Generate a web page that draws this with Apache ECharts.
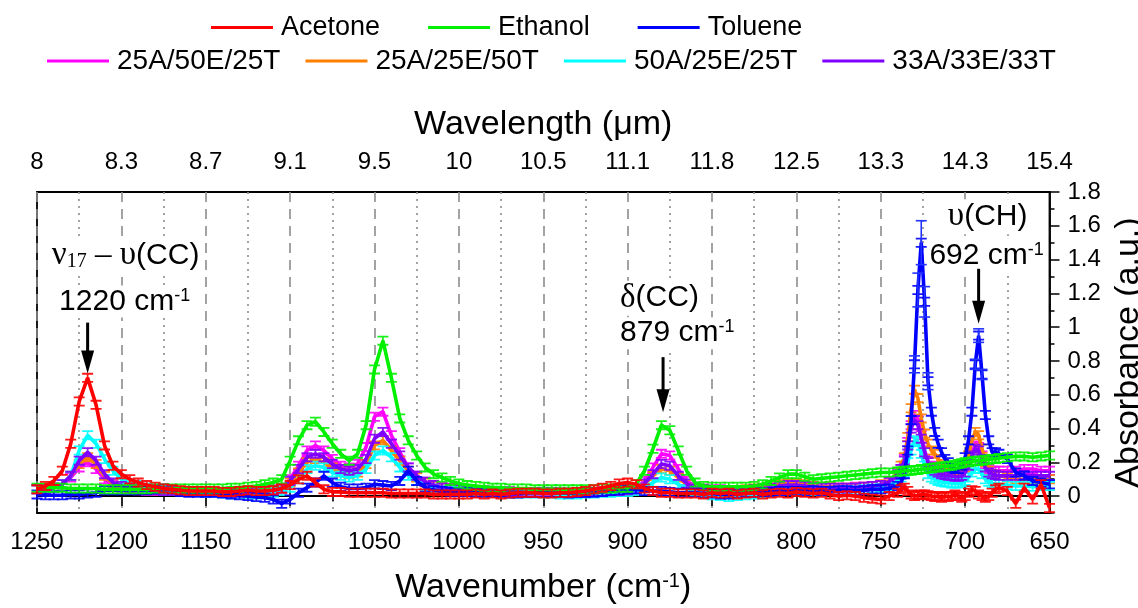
<!DOCTYPE html>
<html>
<head>
<meta charset="utf-8">
<script src="https://cdn.jsdelivr.net/npm/echarts@6/dist/echarts.min.js"></script>
<style>
  html, body { margin: 0; padding: 0; background: #fff; }
  #chart { width: 1138px; height: 608px; }
</style>
</head>
<body>
<div id="chart"></div>
<script>
// Wavenumber grid shared by every spectrum (cm-1); finer steps across the toluene bands.
const WAVENUMBER = [
  1250,1245,1240,1235,1230,1225,1220,1215,1210,1205,
  1200,1195,1190,1185,1180,1175,1170,1165,1160,1155,
  1150,1145,1140,1135,1130,1125,1120,1115,1110,1105,
  1100,1095,1090,1085,1080,1075,1070,1065,1060,1055,
  1050,1045,1040,1035,1030,1025,1020,1015,1010,1005,
  1000,995,990,985,980,975,970,965,960,955,
  950,945,940,935,930,925,920,915,910,905,
  900,895,890,885,880,875,870,865,860,855,
  850,845,840,835,830,825,820,815,810,805,
  800,795,790,785,780,775,770,765,760,755,
  750,745,740,
  738,736,734,732,730,728,726,724,722,720,
  718,716,714,712,710,708,706,704,702,700,
  698,696,694,692,690,688,686,684,682,680,
  675,670,665,660,655,650
];

// Absorbance (a.u.) of each sample at the wavenumbers above.
const ACETONE = [
  0.04,0.06,0.09,0.15,0.31,0.56,0.70,0.54,0.30,0.18,
  0.13,0.10,0.08,0.065,0.055,0.045,0.04,0.035,0.03,0.03,
  0.03,0.03,0.025,0.025,0.03,0.035,0.03,0.03,0.035,0.045,
  0.065,0.10,0.12,0.08,0.04,0.025,0.025,0.02,0.02,0.02,
  0.02,0.02,0.015,0.015,0.015,0.015,0.015,0.01,0.01,0.01,
  0.01,0.01,0.015,0.01,0.015,0.01,0.015,0.02,0.02,0.02,
  0.015,0.015,0.02,0.02,0.025,0.03,0.04,0.05,0.06,0.075,
  0.08,0.07,0.045,0.03,0.02,0.02,0.015,0.015,0.015,0.01,
  0.02,0.015,0.02,0.01,0.015,0.02,0.01,0.015,0.02,0.015,
  0.025,0.02,0.015,0.02,0.01,0.0,0.005,0.0,-0.01,-0.015,
  -0.02,0.0,0.02,
  0.04,0.05,0.03,0.01,0.0,0.005,0.01,0.01,0.005,0.0,
  -0.005,0.0,-0.01,0.0,-0.005,0.0,0.01,0.0,-0.01,0.0,
  0.02,0.035,0.03,0.01,0.0,-0.01,0.0,0.02,0.04,0.05,
  0.03,-0.045,0.05,-0.02,0.07,-0.07
];

const ETHANOL = [
  0.05,0.05,0.05,0.05,0.045,0.045,0.045,0.045,0.04,0.04,
  0.04,0.04,0.04,0.04,0.045,0.045,0.045,0.045,0.045,0.045,
  0.045,0.045,0.045,0.05,0.05,0.055,0.06,0.07,0.08,0.10,
  0.21,0.33,0.42,0.44,0.38,0.31,0.25,0.21,0.25,0.42,
  0.75,0.92,0.70,0.46,0.33,0.24,0.17,0.13,0.11,0.09,
  0.075,0.065,0.06,0.055,0.05,0.05,0.045,0.045,0.045,0.04,
  0.04,0.04,0.04,0.04,0.04,0.04,0.04,0.045,0.045,0.05,
  0.05,0.07,0.15,0.28,0.42,0.39,0.27,0.15,0.08,0.06,
  0.055,0.055,0.055,0.055,0.055,0.06,0.07,0.09,0.11,0.13,
  0.13,0.115,0.10,0.105,0.11,0.115,0.12,0.125,0.13,0.135,
  0.14,0.14,0.145,
  0.145,0.15,0.15,0.15,0.155,0.155,0.16,0.16,0.165,0.165,
  0.17,0.17,0.175,0.175,0.18,0.18,0.185,0.19,0.195,0.2,
  0.2,0.205,0.21,0.21,0.21,0.215,0.215,0.22,0.22,0.225,
  0.23,0.235,0.235,0.23,0.235,0.24
];

const TOLUENE = [
  0.01,0.005,0.005,0.005,0.01,0.01,0.015,0.02,0.035,0.035,
  0.035,0.035,0.035,0.035,0.04,0.045,0.04,0.025,0.02,0.02,
  0.02,0.02,0.015,0.01,0.005,0.0,-0.005,-0.01,-0.02,-0.045,
  -0.02,0.02,0.05,0.08,0.12,0.08,0.055,0.045,0.045,0.05,
  0.07,0.065,0.06,0.09,0.15,0.09,0.05,0.035,0.03,0.025,
  0.025,0.025,0.02,0.02,0.02,0.02,0.015,0.015,0.02,0.02,
  0.02,0.02,0.02,0.015,0.02,0.02,0.02,0.025,0.03,0.035,
  0.04,0.04,0.03,0.03,0.03,0.025,0.02,0.02,0.02,0.015,
  0.015,0.01,0.01,0.015,0.02,0.02,0.025,0.025,0.03,0.03,
  0.03,0.03,0.035,0.03,0.03,0.035,0.035,0.03,0.035,0.04,
  0.04,0.045,0.06,
  0.08,0.13,0.27,0.45,0.78,1.22,1.5,1.15,0.68,0.50,
  0.38,0.31,0.26,0.22,0.2,0.17,0.16,0.16,0.18,0.23,
  0.33,0.5,0.78,0.95,0.72,0.48,0.33,0.26,0.26,0.25,
  0.22,0.14,0.12,0.09,0.08,0.07
];

// Standard deviation of the toluene spectrum where it is large enough to show.
const TOLUENE_ERR = [
  [730, 0.05], [728, 0.10], [726, 0.13], [724, 0.09], [722, 0.05],
  [694, 0.03], [692, 0.04], [690, 0.03]
];

const MIX_25A_50E_25T = [
  0.04,0.04,0.05,0.07,0.11,0.17,0.20,0.16,0.10,0.065,
  0.05,0.04,0.035,0.03,0.03,0.03,0.03,0.03,0.03,0.03,
  0.02,0.02,0.02,0.02,0.025,0.025,0.03,0.035,0.04,0.05,
  0.10,0.18,0.27,0.30,0.27,0.22,0.18,0.17,0.19,0.29,
  0.47,0.50,0.36,0.26,0.17,0.12,0.085,0.065,0.055,0.05,
  0.045,0.04,0.035,0.035,0.03,0.03,0.03,0.025,0.025,0.025,
  0.025,0.025,0.02,0.02,0.02,0.025,0.025,0.03,0.03,0.035,
  0.04,0.05,0.09,0.17,0.25,0.24,0.16,0.09,0.055,0.045,
  0.04,0.04,0.035,0.035,0.035,0.04,0.04,0.045,0.05,0.055,
  0.06,0.055,0.05,0.05,0.05,0.05,0.05,0.055,0.055,0.06,
  0.065,0.08,0.12,
  0.16,0.22,0.32,0.42,0.48,0.45,0.36,0.27,0.21,0.18,
  0.16,0.15,0.14,0.14,0.13,0.13,0.13,0.13,0.14,0.16,
  0.2,0.26,0.3,0.29,0.24,0.19,0.16,0.15,0.15,0.15,
  0.15,0.15,0.16,0.16,0.15,0.15
];

const MIX_25A_25E_50T = [
  0.04,0.04,0.05,0.07,0.12,0.19,0.23,0.19,0.12,0.075,
  0.055,0.045,0.04,0.035,0.035,0.03,0.03,0.03,0.03,0.03,
  0.025,0.025,0.02,0.02,0.02,0.02,0.025,0.03,0.035,0.04,
  0.08,0.14,0.20,0.22,0.20,0.17,0.14,0.13,0.14,0.19,
  0.30,0.33,0.27,0.21,0.15,0.11,0.08,0.06,0.05,0.045,
  0.04,0.035,0.035,0.03,0.03,0.025,0.025,0.025,0.02,0.02,
  0.02,0.02,0.02,0.02,0.02,0.02,0.025,0.025,0.03,0.03,
  0.035,0.04,0.07,0.12,0.16,0.15,0.11,0.07,0.045,0.04,
  0.035,0.035,0.035,0.035,0.04,0.045,0.05,0.06,0.07,0.075,
  0.075,0.07,0.06,0.055,0.055,0.05,0.05,0.05,0.055,0.06,
  0.07,0.09,0.14,
  0.18,0.23,0.35,0.52,0.63,0.58,0.46,0.37,0.31,0.27,
  0.25,0.22,0.19,0.17,0.15,0.14,0.13,0.13,0.14,0.17,
  0.24,0.33,0.38,0.36,0.28,0.2,0.15,0.13,0.12,0.12,
  0.11,0.1,0.1,0.1,0.1,0.1
];

const MIX_50A_25E_25T = [
  0.04,0.045,0.05,0.07,0.12,0.27,0.36,0.31,0.22,0.15,
  0.10,0.075,0.065,0.05,0.045,0.04,0.035,0.03,0.03,0.025,
  0.02,0.02,0.015,0.01,0.01,0.01,0.01,0.015,0.02,0.03,
  0.05,0.10,0.16,0.18,0.17,0.14,0.12,0.11,0.12,0.16,
  0.24,0.27,0.23,0.17,0.12,0.09,0.06,0.045,0.035,0.03,
  0.03,0.025,0.025,0.02,0.02,0.02,0.015,0.015,0.015,0.015,
  0.015,0.015,0.01,0.01,0.01,0.015,0.015,0.02,0.02,0.025,
  0.025,0.03,0.05,0.08,0.11,0.10,0.07,0.04,0.025,0.02,
  0.005,0.0,-0.005,0.0,0.005,0.01,0.015,0.02,0.025,0.03,
  0.035,0.03,0.03,0.025,0.03,0.03,0.035,0.035,0.04,0.045,
  0.05,0.06,0.09,
  0.11,0.14,0.2,0.27,0.33,0.32,0.25,0.18,0.13,0.11,
  0.1,0.09,0.085,0.08,0.08,0.075,0.075,0.075,0.08,0.09,
  0.11,0.14,0.16,0.16,0.13,0.1,0.085,0.075,0.07,0.07,
  0.065,0.06,0.06,0.055,0.06,0.06
];

const MIX_33A_33E_33T = [
  0.04,0.04,0.05,0.07,0.12,0.21,0.26,0.21,0.13,0.08,
  0.06,0.05,0.04,0.035,0.035,0.03,0.03,0.03,0.03,0.03,
  0.025,0.025,0.02,0.02,0.02,0.025,0.025,0.03,0.035,0.045,
  0.09,0.16,0.23,0.25,0.23,0.19,0.16,0.15,0.16,0.22,
  0.34,0.38,0.31,0.24,0.17,0.12,0.085,0.065,0.05,0.045,
  0.04,0.035,0.035,0.03,0.03,0.025,0.025,0.025,0.02,0.02,
  0.02,0.02,0.02,0.02,0.02,0.02,0.025,0.025,0.03,0.03,
  0.035,0.04,0.075,0.13,0.19,0.18,0.12,0.075,0.045,0.04,
  0.035,0.035,0.03,0.03,0.035,0.04,0.045,0.05,0.06,0.065,
  0.065,0.06,0.055,0.05,0.05,0.05,0.05,0.05,0.055,0.06,
  0.065,0.085,0.13,
  0.16,0.21,0.3,0.4,0.45,0.42,0.34,0.26,0.2,0.17,
  0.15,0.14,0.13,0.125,0.12,0.12,0.115,0.115,0.12,0.14,
  0.18,0.24,0.28,0.27,0.22,0.17,0.14,0.13,0.125,0.12,
  0.12,0.12,0.125,0.12,0.12,0.12
];

// Axis ticks: wavenumber ticks on the bottom, the matching wavelengths (µm) on top.
const WN_TICKS = [1250,1200,1150,1100,1050,1000,950,900,850,800,750,700,650];
const WL_LABELS = ['8','8.3','8.7','9.1','9.5','10','10.5','11.1','11.8','12.5','13.3','14.3','15.4'];
const Y_TICKS = [0,0.2,0.4,0.6,0.8,1,1.2,1.4,1.6,1.8];
const Y_MINOR_TICKS = [-0.1,0.1,0.3,0.5,0.7,0.9,1.1,1.3,1.5,1.7];

const SERIES_INFO = [
  { name: 'Acetone',     values: ACETONE,         color: '#ff0000' },
  { name: 'Ethanol',     values: ETHANOL,         color: '#00f000' },
  { name: 'Toluene',     values: TOLUENE,         color: '#0000ff' },
  { name: '25A/50E/25T', values: MIX_25A_50E_25T, color: '#ff00ff' },
  { name: '25A/25E/50T', values: MIX_25A_25E_50T, color: '#ff8000' },
  { name: '50A/25E/25T', values: MIX_50A_25E_25T, color: '#00ffff' },
  { name: '33A/33E/33T', values: MIX_33A_33E_33T, color: '#8000ff' }
];

const SANS = '"Liberation Sans", Arial, sans-serif';
const SERIF = '"Liberation Serif", "Times New Roman", serif';
// error-bar style marker (cap, stem, cap) placed at every sample
const ERR_MARK = 'path://M0,0H11V1.8H6.4V8.2H11V10H0V8.2H4.6V1.8H0Z';

function spectrumSeries(info, z) {
  return {
    name: info.name,
    type: 'line',
    xAxisIndex: 0,
    yAxisIndex: 0,
    data: WAVENUMBER.map((w, i) => [w, info.values[i]]),
    color: info.color,
    lineStyle: { width: 3.6, color: info.color },
    symbol: ERR_MARK,
    symbolSize: [11, 10],
    showAllSymbol: true,
    itemStyle: { color: info.color, opacity: 0.9 },
    emphasis: { disabled: true },
    silent: true,
    z: z
  };
}

// mixtures underneath, then toluene, ethanol and acetone on top
const drawOrder = ['25A/50E/25T', '25A/25E/50T', '50A/25E/25T', '33A/33E/33T', 'Toluene', 'Ethanol', 'Acetone'];
const series = drawOrder.map((n, k) => spectrumSeries(SERIES_INFO.find(s => s.name === n), 2 + k * 0.01));

series.push({
  type: 'custom',
  xAxisIndex: 0,
  yAxisIndex: 0,
  silent: true,
  z: 2.05,
  data: TOLUENE_ERR.map(([w, e]) => [w, TOLUENE[WAVENUMBER.indexOf(w)], e]),
  encode: { x: 0, y: 1 },
  renderItem: function (params, api) {
    const w = api.value(0), v = api.value(1), e = api.value(2);
    const top = api.coord([w, v + e]);
    const bot = api.coord([w, v - e]);
    const hw = 5.5;
    const st = { stroke: '#2233ff', lineWidth: 1.6 };
    return {
      type: 'group',
      children: [
        { type: 'line', shape: { x1: top[0], y1: top[1], x2: bot[0], y2: bot[1] }, style: st },
        { type: 'line', shape: { x1: top[0] - hw, y1: top[1], x2: top[0] + hw, y2: top[1] }, style: st },
        { type: 'line', shape: { x1: bot[0] - hw, y1: bot[1], x2: bot[0] + hw, y2: bot[1] }, style: st }
      ]
    };
  }
});

const AXIS_LINE = { show: true, lineStyle: { color: '#000', width: 1.8 } };
const TICK = { show: true, inside: false, length: 10, lineStyle: { color: '#000', width: 1.5 } };
const MINOR_TICK = { show: true, splitNumber: 2, length: 5, lineStyle: { color: '#000', width: 1.5 } };
const LABEL = { color: '#000', fontFamily: SANS, fontSize: 24 };
const NAME_STYLE = {
  color: '#000', fontFamily: SANS, fontSize: 34,
  rich: { sup: { fontFamily: SANS, fontSize: 20, verticalAlign: 'top', color: '#000' } }
};

const legendBase = {
  icon: 'rect',
  itemWidth: 62,
  itemHeight: 3,
  padding: 0,
  selectedMode: false,
  itemStyle: { opacity: 1 }
};

const chart = echarts.init(document.getElementById('chart'), null, { renderer: 'canvas' });

chart.setOption({
  animation: false,
  backgroundColor: '#fff',
  grid: {
    left: 37, right: 88.5, top: 192, bottom: 95,
    containLabel: false, outerBoundsMode: 'none',
    show: true, borderColor: '#000', borderWidth: 1.8, backgroundColor: 'transparent'
  },
  legend: [
    Object.assign({}, legendBase, {
      data: ['Acetone', 'Ethanol', 'Toluene'], left: 211, top: 14, itemGap: 48,
      textStyle: { color: '#000', fontFamily: SANS, fontSize: 27, padding: [0, 0, 0, 3] }
    }),
    Object.assign({}, legendBase, {
      data: ['25A/50E/25T', '25A/25E/50T', '50A/25E/25T', '33A/33E/33T'], left: 47, top: 47, itemGap: 25,
      textStyle: { color: '#000', fontFamily: SANS, fontSize: 28, padding: [0, 0, 0, 3] }
    })
  ],
  xAxis: [
    {
      type: 'value', position: 'bottom', min: 650, max: 1250, interval: 50, inverse: true,
      axisLine: AXIS_LINE, axisTick: TICK, minorTick: MINOR_TICK,
      axisLabel: Object.assign({ margin: 17, formatter: v => String(v) }, LABEL),
      splitLine: { show: true, lineStyle: { color: '#8c8c8c', width: 1.6, type: [10, 7] } },
      minorSplitLine: { show: true, lineStyle: { color: '#8c8c8c', width: 1.6, type: [2, 5] } },
      name: 'Wavenumber (cm{sup|-1})', nameLocation: 'middle', nameGap: 58, nameTextStyle: NAME_STYLE
    },
    {
      type: 'value', position: 'top', min: 650, max: 1250, interval: 50, inverse: true,
      axisLine: AXIS_LINE, axisTick: TICK, minorTick: MINOR_TICK,
      axisLabel: Object.assign({
        margin: 18,
        formatter: v => { const k = WN_TICKS.indexOf(Math.round(v)); return k >= 0 ? WL_LABELS[k] : ''; }
      }, LABEL),
      splitLine: { show: false }, minorSplitLine: { show: false },
      name: 'Wavelength (μm)', nameLocation: 'middle', nameGap: 50, nameTextStyle: NAME_STYLE
    }
  ],
  yAxis: [
    {
      type: 'value', position: 'right', offset: 0, min: -0.1, max: 1.8,
      axisLine: AXIS_LINE,
      axisTick: Object.assign({ customValues: Y_TICKS }, TICK),
      axisLabel: Object.assign({ margin: 18, customValues: Y_TICKS, formatter: v => String(+(+v).toFixed(1)) }, LABEL),
      splitLine: { show: false },
      name: 'Absorbance (a.u.)', nameLocation: 'middle', nameGap: 47, nameTextStyle: NAME_STYLE
    },
    {
      type: 'value', position: 'right', offset: 0, min: -0.1, max: 1.8,
      axisLine: { show: false },
      axisTick: { show: true, inside: false, length: 5, customValues: Y_MINOR_TICKS, lineStyle: { color: '#000', width: 1.5 } },
      axisLabel: { show: false, customValues: Y_MINOR_TICKS },
      splitLine: { show: false }
    }
  ],
  series: series
});

// Band assignments: arrow tip in data coordinates, text offsets in pixels from the tip.
const ANNOTATIONS = [
  {
    wn: 1220, tip: 0.725, len: 51,
    texts: [
      { text: '{g|ν}{sub|17}{g| – υ}(CC)', dx: 38, dy: -118, align: 'center' },
      { text: '1220 cm{sup|-1}', dx: 37, dy: -72, align: 'center' }
    ]
  },
  {
    wn: 879, tip: 0.497, len: 55,
    texts: [
      { text: '{g|δ}(CC)', dx: -45, dy: -114, align: 'left' },
      { text: '879 cm{sup|-1}', dx: -45, dy: -79, align: 'left' }
    ]
  },
  {
    wn: 692, tip: 1.02, len: 55,
    texts: [
      { text: '{g|υ}(CH)', dx: 9, dy: -107, align: 'center' },
      { text: '692 cm{sup|-1}', dx: 8, dy: -68, align: 'center' }
    ]
  }
];

const RICH = {
  g: { fontFamily: SERIF, fontSize: 33, fill: '#000' },
  sub: { fontFamily: SERIF, fontSize: 20, verticalAlign: 'bottom', fill: '#000' },
  sup: { fontFamily: SANS, fontSize: 18, verticalAlign: 'top', fill: '#000' }
};

const graphics = [];
ANNOTATIONS.forEach(a => {
  const p = chart.convertToPixel({ xAxisIndex: 0, yAxisIndex: 0 }, [a.wn, a.tip]);
  const x = p[0], y = p[1];
  a.texts.forEach(t => {
    graphics.push({
      type: 'text', z: 50,
      style: {
        text: t.text, x: x + t.dx, y: y + t.dy, align: t.align, verticalAlign: 'middle',
        fontFamily: SANS, fontSize: 30, fill: '#000', rich: RICH,
        backgroundColor: '#fff', padding: [1, 2]
      }
    });
  });
  graphics.push({
    type: 'line', z: 50,
    shape: { x1: x, y1: y - a.len, x2: x, y2: y - 20 },
    style: { stroke: '#000', lineWidth: 3 }
  });
  graphics.push({
    type: 'polygon', z: 50,
    shape: { points: [[x - 6.5, y - 23], [x + 6.5, y - 23], [x, y]] },
    style: { fill: '#000' }
  });
});
chart.setOption({ graphic: graphics });
</script>
</body>
</html>
